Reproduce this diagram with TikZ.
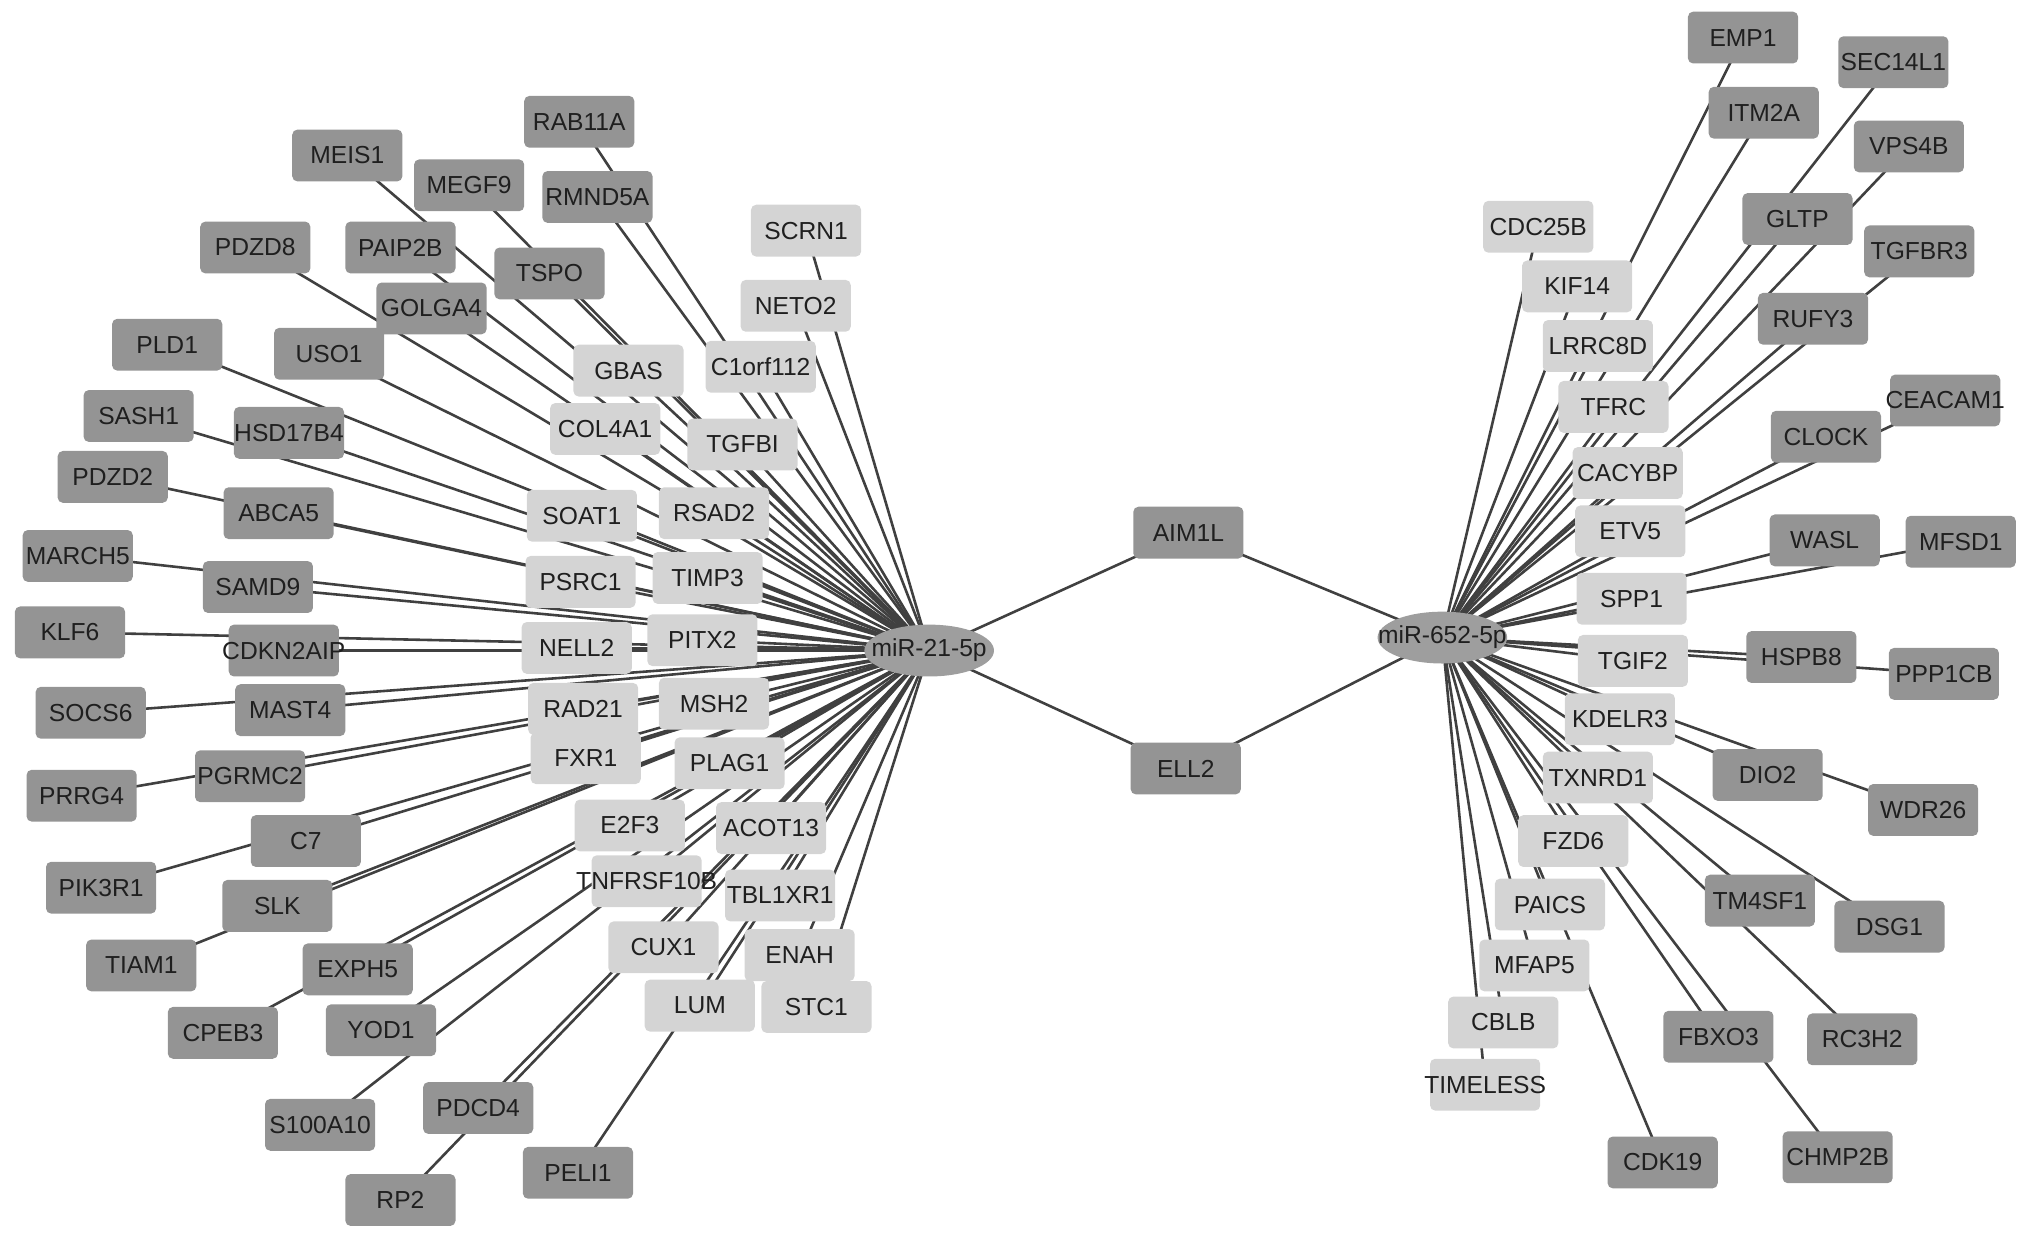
\documentclass[tikz,border=0pt]{standalone}
\usepackage{fontspec}
\setmainfont{Liberation Sans}
\usetikzlibrary{backgrounds,shapes.geometric}
\newcommand\ctext[1]{\makebox[0pt][c]{#1}}
\definecolor{darkbox}{gray}{0.58}
\definecolor{lightbox}{gray}{0.83}
\definecolor{hubfill}{gray}{0.62}
\definecolor{edgecol}{gray}{0.25}
\definecolor{txtcol}{gray}{0.12}
\tikzset{
  gbase/.style={rectangle, rounded corners=2pt, minimum width=42.5pt, minimum height=20pt, inner sep=0pt, text=txtcol, font=\fontsize{9.5}{11}\selectfont},
  dk/.style={gbase, fill=darkbox},
  lt/.style={gbase, fill=lightbox},
  hub/.style={ellipse, fill=hubfill, minimum width=50pt, minimum height=20pt, inner sep=0pt, text=txtcol, font=\fontsize{9.5}{11}\selectfont},
  edge/.style={draw=edgecol, line width=1pt}
}
\begin{document}
\begin{tikzpicture}[x=0.5pt,y=-0.5pt]
\useasboundingbox (0,0) rectangle (1568,956);
% hubs
\node[hub] (mir21) at (717,502) {\ctext{miR-21-5p}};
\node[hub] (mir652) at (1113,492) {\ctext{miR-652-5p}};
\node[dk] (AIM1L) at (917,411) {\ctext{AIM1L}};
\node[dk] (ELL2) at (915,593) {\ctext{ELL2}};
% left genes
\foreach \n/\x/\y/\s in {
RAB11A/447/94/dk, MEIS1/268/120/dk, MEGF9/362/143/dk, RMND5A/461/152/dk,
SCRN1/622/178/lt, PDZD8/197/191/dk, PAIP2B/309/191/dk, TSPO/424/211/dk,
NETO2/614/236/lt, GOLGA4/333/238/dk, PLD1/129/266/dk, USO1/254/273/dk,
GBAS/485/286/lt, C1orf112/587/283/lt, COL4A1/467/331/lt, TGFBI/573/343/lt,
SASH1/107/321/dk, HSD17B4/223/334/dk, PDZD2/87/368/dk, ABCA5/215/396/dk,
SOAT1/449/398/lt, RSAD2/551/396/lt, MARCH5/60/429/dk, PSRC1/448/449/lt,
TIMP3/546/446/lt, SAMD9/199/453/dk, KLF6/54/488/dk, CDKN2AIP/219/502/dk,
NELL2/445/500/lt, PITX2/542/494/lt, SOCS6/70/550/dk, MAST4/224/548/dk,
RAD21/450/547/lt, MSH2/551/543/lt, PRRG4/63/614/dk, PGRMC2/193/599/dk,
FXR1/452/585/lt, PLAG1/563/589/lt, C7/236/649/dk, E2F3/486/637/lt,
ACOT13/595/639/lt, PIK3R1/78/685/dk, SLK/214/699/dk, TNFRSF10B/499/680/lt,
TBL1XR1/602/691/lt, TIAM1/109/745/dk, EXPH5/276/748/dk, CUX1/512/731/lt,
ENAH/617/737/lt, CPEB3/172/797/dk, YOD1/294/795/dk, LUM/540/776/lt,
STC1/630/777/lt, S100A10/247/868/dk, PDCD4/369/855/dk, RP2/309/926/dk,
PELI1/446/905/dk}
{
  \node[\s] (\n) at (\x,\y) {\ctext{\n}};
  \begin{scope}[on background layer]
    \draw[edge] (\n.center) -- (mir21.center);
  \end{scope}
}
% right genes
\foreach \n/\x/\y/\s in {
EMP1/1345/29/dk, SEC14L1/1461/48/dk, ITM2A/1361/87/dk, VPS4B/1473/113/dk,
CDC25B/1187/175/lt, GLTP/1387/169/dk, TGFBR3/1481/194/dk, KIF14/1217/221/lt,
RUFY3/1399/246/dk, LRRC8D/1233/267/lt, CEACAM1/1501/309/dk, TFRC/1245/314/lt,
CLOCK/1409/337/dk, CACYBP/1256/365/lt, ETV5/1258/410/lt, WASL/1408/417/dk,
MFSD1/1513/418/dk, SPP1/1259/462/lt, TGIF2/1260/510/lt, HSPB8/1390/507/dk,
PPP1CB/1500/520/dk, KDELR3/1250/555/lt, DIO2/1364/598/dk, TXNRD1/1233/600/lt,
WDR26/1484/625/dk, FZD6/1214/649/lt, TM4SF1/1358/695/dk, PAICS/1196/698/lt,
DSG1/1458/715/dk, MFAP5/1184/745/lt, FBXO3/1326/800/dk, RC3H2/1437/802/dk,
CBLB/1160/789/lt, TIMELESS/1146/837/lt, CDK19/1283/897/dk, CHMP2B/1418/893/dk}
{
  \node[\s] (\n) at (\x,\y) {\ctext{\n}};
  \begin{scope}[on background layer]
    \draw[edge] (\n.center) -- (mir652.center);
  \end{scope}
}
\begin{scope}[on background layer]
\draw[edge] (mir21.center) -- (AIM1L.center) -- (mir652.center);
\draw[edge] (mir21.center) -- (ELL2.center) -- (mir652.center);
\end{scope}
\end{tikzpicture}
\end{document}
